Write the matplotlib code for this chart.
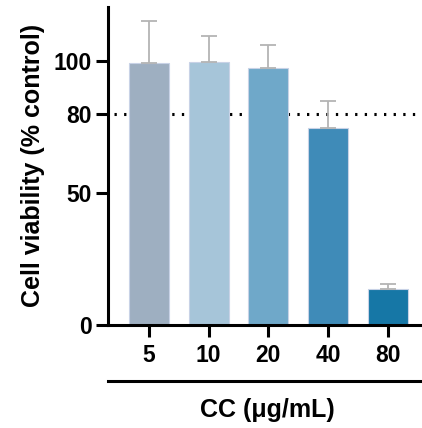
import matplotlib
matplotlib.use("Agg")
import matplotlib.pyplot as plt
from matplotlib.lines import Line2D

plt.rcParams['font.family'] = ['Liberation Sans', 'DejaVu Sans']
plt.rcParams['font.weight'] = 'bold'

# --- data ---
doses = ['5', '10', '20', '40', '80']
viability = [99.2, 99.6, 97.5, 74.5, 13.6]
err_up = [16.1, 9.9, 8.7, 10.5, 1.8]
bar_colors = ['#9eafc1', '#a6c5d9', '#6fa8c9', '#3f8bb8', '#1677a6']
threshold = 80

fig = plt.figure(figsize=(4.22, 4.28), dpi=100)
ax = fig.add_axes([0.256, 0.241, 0.744, 0.743])

x = list(range(len(doses)))
ax.axhline(threshold, color='black', linestyle=(0, (0.75, 2.4)), linewidth=2.2,
           xmin=0.02, xmax=1.0, zorder=1)
ax.bar(x, viability, width=0.667, color=bar_colors, edgecolor='#c8d2e6',
       linewidth=0.8, zorder=2)
ax.errorbar(x, viability, yerr=[[0] * len(x), err_up], fmt='none',
            ecolor='#b4b4b4', elinewidth=1.3, capsize=6, capthick=1.3, zorder=3)

ax.set_xlim(-0.683, 4.57)
ax.set_ylim(0, 120.5)
ax.set_yticks([0, 50, 80, 100])
ax.set_xticks(x)
ax.set_xticklabels(doses)

for s in ['top', 'right']:
    ax.spines[s].set_visible(False)
for s in ['left', 'bottom']:
    ax.spines[s].set_linewidth(2.2)
ax.tick_params(axis='both', width=2.2, length=8.5, labelsize=16.5, pad=3)
ax.tick_params(axis='x', pad=5)

ax.set_ylabel('Cell viability (% control)', fontsize=18, fontweight='bold',
              labelpad=6)

# second rule under the tick labels, then axis title
ax.add_line(Line2D([0, 1], [-0.176, -0.176], transform=ax.transAxes,
                   color='black', linewidth=2.2, clip_on=False))
fig.text(0.634, 0.042, 'CC (μg/mL)', ha='center', va='center',
         fontsize=18, fontweight='bold')

fig.savefig('out.png', dpi=100)
